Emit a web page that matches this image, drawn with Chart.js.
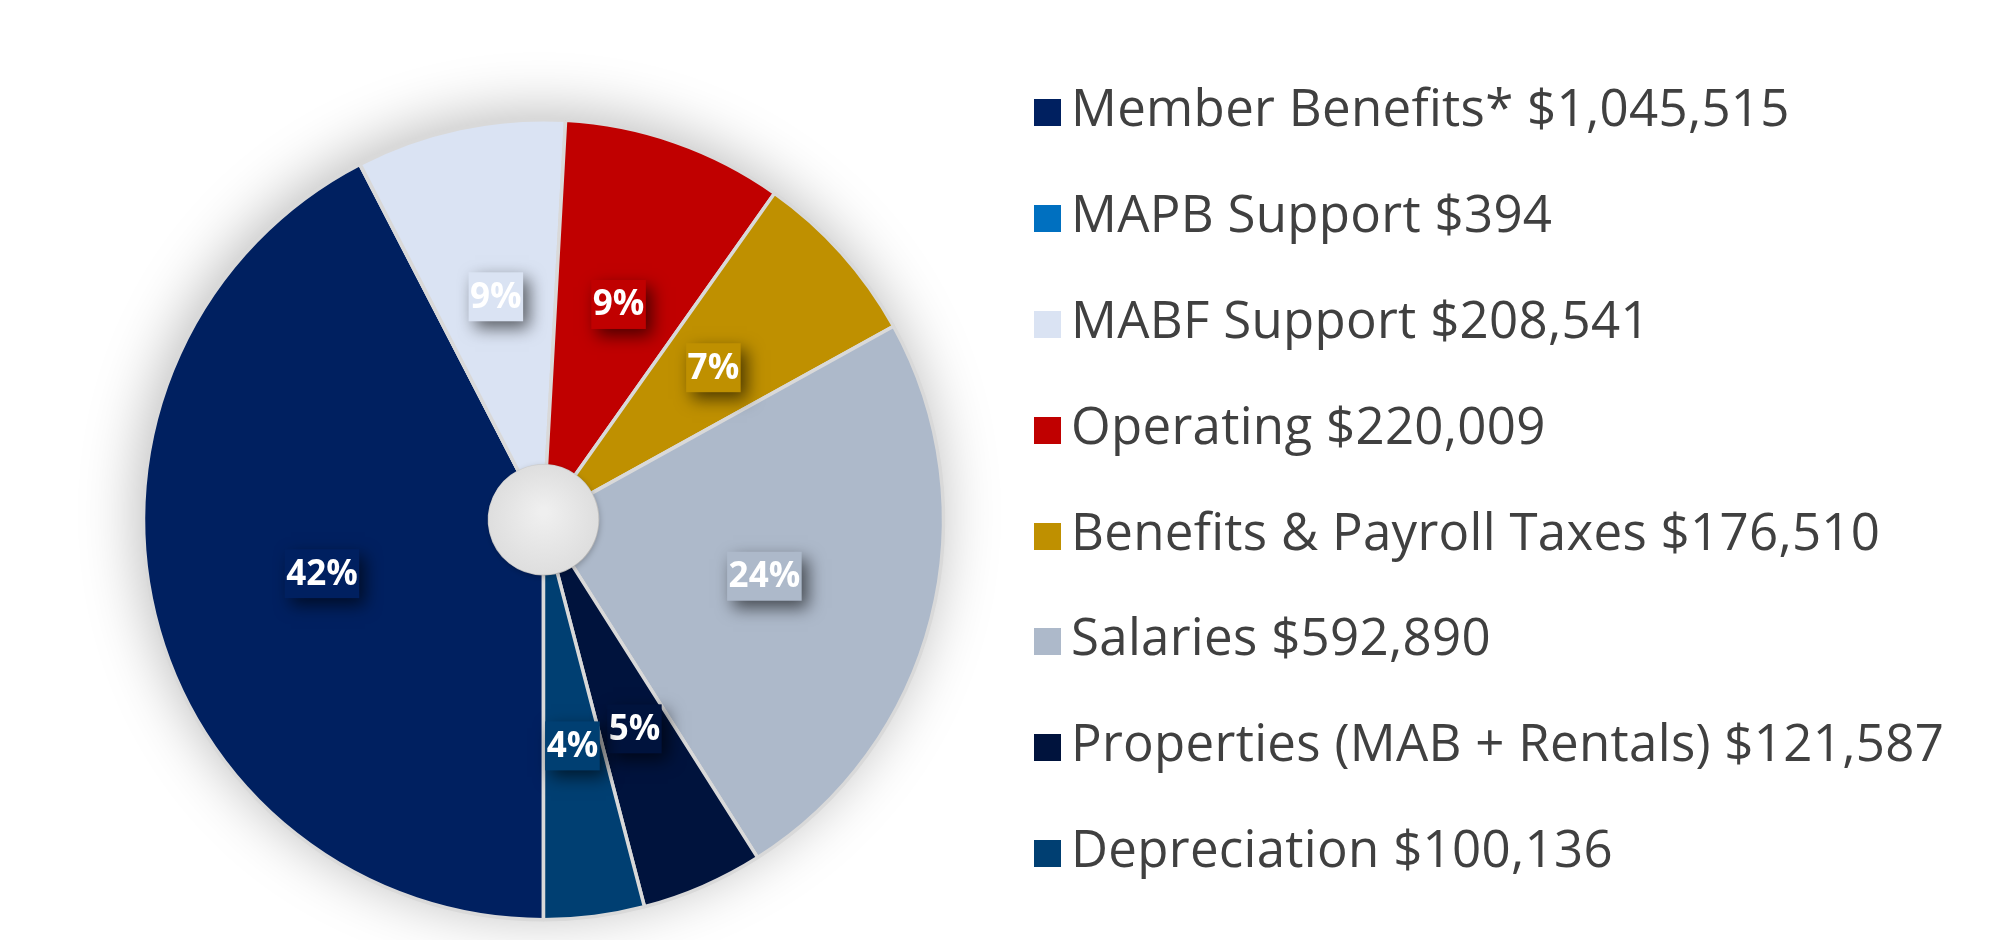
<!DOCTYPE html>
<html>
<head>
<meta charset="utf-8">
<script src="https://cdn.jsdelivr.net/npm/chart.js@4.4.1/dist/chart.umd.min.js"></script>
<style>
  html, body { margin: 0; padding: 0; background: #ffffff; overflow: hidden; }
  #wrap { width: 2005px; height: 940px; overflow: hidden; position: relative; }
  canvas { display: block; }
  #legend { position: absolute; left: 1034px; top: 54px; margin: 0; padding: 0; list-style: none; }
  #legend li { font-family: "Open Sans", sans-serif; font-size: 51px; letter-spacing: 0.3px; line-height: 105.9px; height: 105.9px;
               color: #404040; white-space: nowrap; }
  #legend .sw { display: inline-block; width: 27px; height: 27px; margin-right: 10px; vertical-align: baseline; }
</style>
</head>
<body>
<div id="wrap">
  <canvas id="c" width="2005" height="940"></canvas>
  <ul id="legend"></ul>
</div>
<script>
// ---- data ----
const categories = [
  'Member Benefits*',
  'MAPB Support',
  'MABF Support',
  'Operating',
  'Benefits & Payroll Taxes',
  'Salaries',
  'Properties (MAB + Rentals)',
  'Depreciation'
];
const amounts = [1045515, 394, 208541, 220009, 176510, 592890, 121587, 100136];
const percentLabels = ['42%', '', '9%', '9%', '7%', '24%', '5%', '4%'];
const sliceColors = ['#002060', '#0070C0', '#DAE3F3', '#C00000', '#BF9000', '#ADB9CA', '#00133D', '#003F72'];

const legendLabels = categories.map((c, i) => c + ' $' + amounts[i].toLocaleString('en-US'));

const pieShadow = {
  id: 'pieShadow',
  beforeDatasetsDraw(chart) {
    const arc = chart.getDatasetMeta(0).data[0];
    if (!arc) return;
    const p = arc.getProps(['x', 'y', 'outerRadius'], true);
    const ctx = chart.ctx;
    ctx.save();
    ctx.shadowColor = 'rgba(0,0,0,0.28)';
    ctx.shadowBlur = 60;
    ctx.shadowOffsetX = -4;
    ctx.shadowOffsetY = -6;
    ctx.fillStyle = '#ffffff';
    ctx.beginPath();
    ctx.arc(p.x, p.y, p.outerRadius, 0, Math.PI * 2);
    ctx.fill();
    ctx.restore();
  }
};

const holeAndLabels = {
  id: 'holeAndLabels',
  afterDatasetsDraw(chart) {
    const ctx = chart.ctx;
    const meta = chart.getDatasetMeta(0);
    const first = meta.data[0];
    if (!first) return;
    const c = first.getProps(['x', 'y', 'innerRadius'], true);
    // centre hole
    ctx.save();
    ctx.shadowColor = 'rgba(0,0,0,0.25)';
    ctx.shadowBlur = 6;
    ctx.shadowOffsetX = 1;
    ctx.shadowOffsetY = 2;
    const grad = ctx.createRadialGradient(c.x, c.y - 8, 4, c.x, c.y, c.innerRadius + 1);
    grad.addColorStop(0, '#efefef');
    grad.addColorStop(1, '#dedede');
    ctx.fillStyle = grad;
    ctx.beginPath();
    ctx.arc(c.x, c.y, c.innerRadius + 1, 0, Math.PI * 2);
    ctx.fill();
    ctx.restore();

    // percentage labels
    ctx.save();
    ctx.font = 'bold 35px "Open Sans"';
    ctx.textAlign = 'center';
    ctx.textBaseline = 'middle';
    meta.data.forEach((arc, i) => {
      const txt = percentLabels[i];
      if (!txt) return;
      const a = arc.getProps(['x', 'y', 'startAngle', 'endAngle', 'outerRadius'], true);
      const mid = (a.startAngle + a.endAngle) / 2;
      const r = a.outerRadius * 0.57;
      const cx = a.x + Math.cos(mid) * r;
      const cy = a.y + Math.sin(mid) * r;
      const w = ctx.measureText(txt).width + 3;
      const h = 49;
      ctx.save();
      ctx.shadowColor = 'rgba(0,0,0,0.6)';
      ctx.shadowBlur = 16;
      ctx.shadowOffsetX = 6;
      ctx.shadowOffsetY = 7;
      ctx.fillStyle = sliceColors[i];
      ctx.fillRect(cx - w / 2, cy - h / 2, w, h);
      ctx.restore();
      ctx.fillStyle = '#ffffff';
      ctx.fillText(txt, cx, cy + 1);
    });
    ctx.restore();
  }
};

const htmlLegend = {
  id: 'htmlLegend',
  afterUpdate(chart) {
    const list = document.getElementById('legend');
    list.innerHTML = '';
    const items = chart.options.plugins.legend.labels.generateLabels(chart);
    items.forEach(item => {
      const li = document.createElement('li');
      const sw = document.createElement('span');
      sw.className = 'sw';
      sw.style.background = item.fillStyle;
      li.appendChild(sw);
      li.appendChild(document.createTextNode(item.text));
      list.appendChild(li);
    });
  }
};

new Chart(document.getElementById('c'), {
  type: 'doughnut',
  data: {
    labels: legendLabels,
    datasets: [{
      data: amounts,
      backgroundColor: sliceColors,
      borderColor: '#d9d9d9',
      borderWidth: 3.5,
      hoverOffset: 0
    }]
  },
  options: {
    responsive: false,
    animation: false,
    rotation: 180,
    cutout: '13.5%',
    radius: 400,
    layout: { padding: { left: 116, right: 1034, top: 99.5, bottom: 0 } },
    plugins: {
      tooltip: { enabled: false },
      legend: { display: false }
    }
  },
  plugins: [pieShadow, holeAndLabels, htmlLegend]
});
</script>
</body>
</html>
